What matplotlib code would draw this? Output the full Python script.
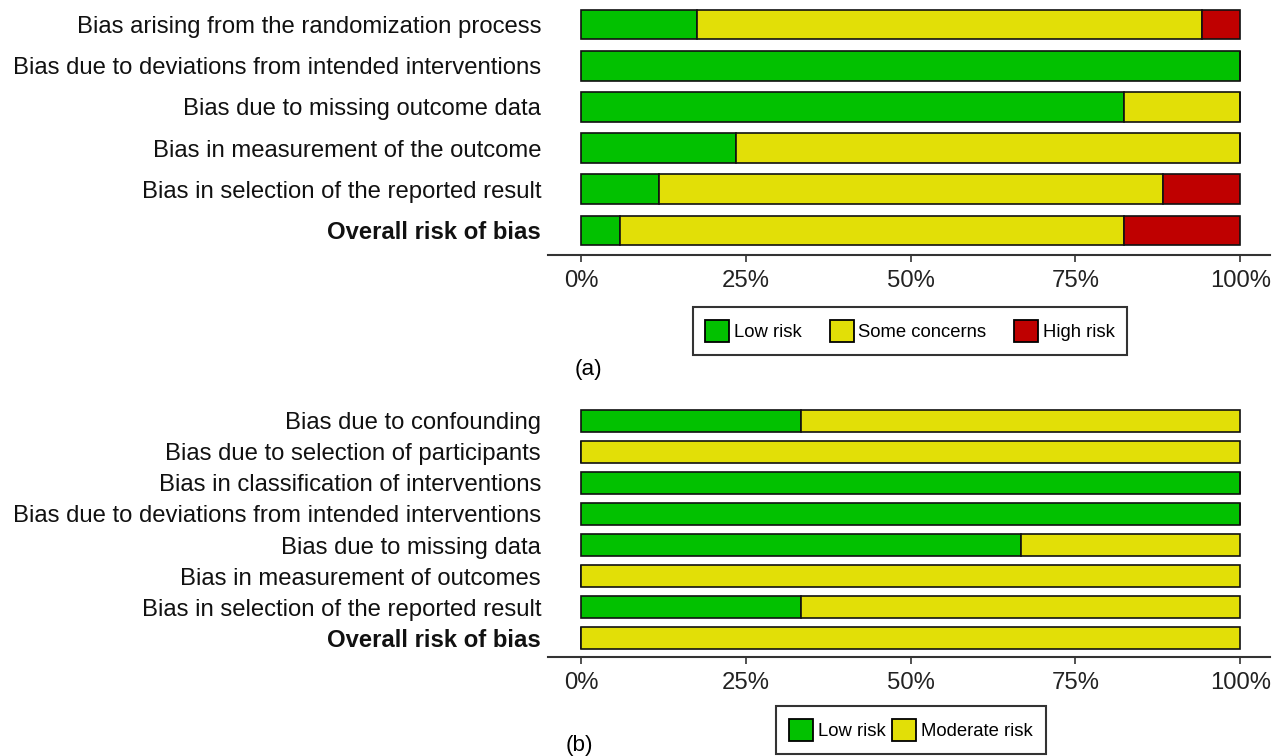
import matplotlib.pyplot as plt
from matplotlib.patches import Patch
import numpy as np

plt.rcParams['font.family'] = ['Liberation Sans', 'DejaVu Sans']

# panel (a): RoB 2, 17 studies
domains_a = ['Bias arising from the randomization process',
             'Bias due to deviations from intended interventions',
             'Bias due to missing outcome data',
             'Bias in measurement of the outcome',
             'Bias in selection of the reported result',
             'Overall risk of bias']
low_a = [3, 17, 14, 4, 2, 1]
some_a = [13, 0, 3, 13, 13, 13]
high_a = [1, 0, 0, 0, 2, 3]

# panel (b): ROBINS-I, 3 studies
domains_b = ['Bias due to confounding',
             'Bias due to selection of participants',
             'Bias in classification of interventions',
             'Bias due to deviations from intended interventions',
             'Bias due to missing data',
             'Bias in measurement of outcomes',
             'Bias in selection of the reported result',
             'Overall risk of bias']
low_b = [1, 0, 3, 3, 2, 0, 1, 0]
mod_b = [2, 3, 0, 0, 1, 3, 2, 3]

ticks = [0, 0.25, 0.5, 0.75, 1.0]
tick_labels = ['0%', '25%', '50%', '75%', '100%']

GREEN = '#02C100'
YELLOW = '#E2DF07'
RED = '#BF0000'

W, H = 1284, 756
fig = plt.figure(figsize=(W / 100, H / 100), dpi=100)
FS = 17.2
LFS = 13.3


def setup(ax, labels, n):
    ax.set_xlim(-0.05, 1.045)
    ax.set_ylim(n - 1 + 0.6, -0.6)
    ax.set_yticks(range(n))
    ax.set_yticklabels(labels, fontsize=FS, color='#111111')
    ax.get_yticklabels()[-1].set_fontweight('bold')
    ax.tick_params(axis='y', length=0, pad=5)
    ax.set_xticks(ticks)
    ax.set_xticklabels(tick_labels, fontsize=FS, color='#222222')
    ax.tick_params(axis='x', length=5, width=1.2, pad=6, color='#333333')
    for s in ['left', 'right', 'top']:
        ax.spines[s].set_visible(False)
    ax.spines['bottom'].set_linewidth(1.5)
    ax.spines['bottom'].set_color('#333333')


def stack(ax, series, colors, height):
    n = len(series[0])
    total = np.sum(series, axis=0).astype(float)
    left = np.zeros(n)
    y = np.arange(n)
    for vals, c in zip(series, colors):
        frac = np.array(vals) / total
        ax.barh(y, frac, left=left, height=height, color=c,
                edgecolor='#111111', linewidth=1.2)
        left += frac


def legend(handles, anchor, loc, colsp):
    leg = fig.legend(handles=handles, loc=loc, bbox_to_anchor=anchor,
                     ncol=len(handles), fontsize=LFS, frameon=True,
                     fancybox=False, edgecolor='black',
                     handlelength=1.3, handleheight=1.5, handletextpad=0.25,
                     columnspacing=colsp, borderpad=0.7, borderaxespad=0)
    leg.get_frame().set_linewidth(1.5)
    return leg


# (a)
ax1 = fig.add_axes([548 / W, 1 - 255 / H, 722 / W, 255 / H])
stack(ax1, [low_a, some_a, high_a], [GREEN, YELLOW, RED], 0.72)
setup(ax1, domains_a, len(domains_a))

legend([Patch(facecolor=GREEN, edgecolor='black', linewidth=1.3, label='Low risk'),
        Patch(facecolor=YELLOW, edgecolor='black', linewidth=1.3, label='Some concerns'),
        Patch(facecolor=RED, edgecolor='black', linewidth=1.3, label='High risk')],
       (910 / W, 1 - 331 / H), 'center', 1.5)
fig.text(575 / W, 1 - 370 / H, '(a)', fontsize=FS - 1, ha='left', va='center')

# (b)
ax2 = fig.add_axes([548 / W, 1 - 657 / H, 722 / W, 255 / H])
stack(ax2, [low_b, mod_b], [GREEN, YELLOW], 0.71)
setup(ax2, domains_b, len(domains_b))

legend([Patch(facecolor=GREEN, edgecolor='black', linewidth=1.3, label='Low risk'),
        Patch(facecolor=YELLOW, edgecolor='black', linewidth=1.3, label='Moderate risk')],
       (911 / W, 1 - 706 / H), 'upper center', 0.35)
fig.text(566 / W, 1 - 745 / H, '(b)', fontsize=FS - 1, ha='left', va='center')

fig.savefig('out.png', dpi=100)
